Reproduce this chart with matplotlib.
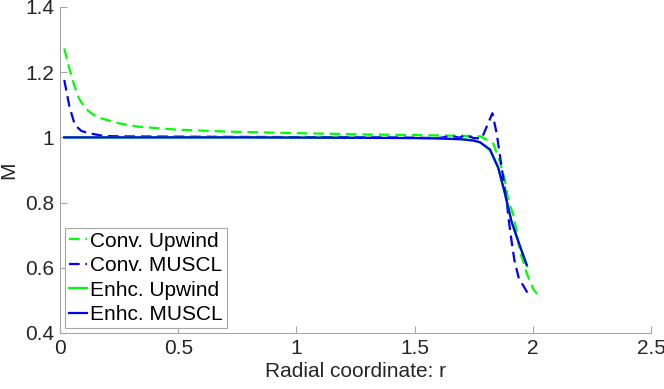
import matplotlib
matplotlib.use("Agg")
import matplotlib.pyplot as plt

# ── data ─────────────────────────────────────────────────────────────────────

conv_upwind_r = [0.018, 0.04, 0.06, 0.08, 0.106, 0.14, 0.176, 0.25, 0.33, 0.49,
                 0.70, 1.00, 1.30, 1.50, 1.70, 1.78, 1.833, 1.861, 1.882, 1.896,
                 1.92, 1.946, 1.977, 2.002, 2.018]
conv_upwind_M = [1.273, 1.21, 1.16, 1.12, 1.09, 1.07, 1.058, 1.043, 1.033, 1.024,
                 1.018, 1.013, 1.009, 1.007, 1.005, 1.003, 0.981, 0.925, 0.869, 0.808,
                 0.757, 0.650, 0.578, 0.535, 0.520]

conv_muscl_r = [0.018, 0.04, 0.063, 0.09, 0.12, 0.19, 0.30, 0.60, 1.00, 1.40,
                1.60, 1.657, 1.69, 1.713, 1.75, 1.784, 1.829, 1.847, 1.868, 1.891,
                1.90, 1.91, 1.922, 1.94, 1.984]
conv_muscl_M = [1.176, 1.094, 1.038, 1.020, 1.013, 1.004, 1.003, 1.002, 1.001, 1.000,
                0.998, 1.004, 0.999, 1.007, 0.998, 0.997, 1.074, 1.013, 0.910, 0.793,
                0.737, 0.683, 0.624, 0.570, 0.515]

enhc_upwind_r = [0.018, 0.30, 0.80, 1.20, 1.50, 1.60, 1.70, 1.75, 1.777, 1.819,
                 1.854, 1.882, 1.91, 1.939, 1.976]
enhc_upwind_M = [1.000, 1.000, 1.000, 0.999, 0.998, 0.997, 0.995, 0.991, 0.985, 0.960,
                 0.905, 0.826, 0.742, 0.680, 0.605]

enhc_muscl_r = [0.018, 0.30, 0.80, 1.20, 1.50, 1.60, 1.70, 1.75, 1.777, 1.819,
                1.854, 1.882, 1.91, 1.939, 1.974]
enhc_muscl_M = [1.000, 1.000, 1.000, 0.999, 0.998, 0.997, 0.994, 0.990, 0.985, 0.963,
                0.907, 0.829, 0.742, 0.680, 0.609]

X_TICKS = [0, 0.5, 1, 1.5, 2, 2.5]
X_TICKLABELS = ["0", "0.5", "1", "1.5", "2", "2.5"]
Y_TICKS = [0.4, 0.6, 0.8, 1.0, 1.2, 1.4]
Y_TICKLABELS = ["0.4", "0.6", "0.8", "1", "1.2", "1.4"]

# ── style ─────────────────────────────────────────────────────────────────────

plt.rcParams["font.family"] = ["Liberation Sans", "DejaVu Sans"]
plt.rcParams["font.size"] = 15

GREEN = "#00ff00"
BLUE = "#0000ff"
AXIS_GREY = "#a6a6a6"
TEXT_DARK = "#262626"
DASH = (0, (4.8, 2.6))
LW = 1.6

fig = plt.figure(figsize=(6.64, 3.89), dpi=100)
ax = fig.add_axes([60 / 664, 1 - 333 / 389, 591 / 664, 326 / 389])

ax.plot(conv_upwind_r, conv_upwind_M, color=GREEN, lw=LW, linestyle=DASH,
        label="Conv. Upwind")
ax.plot(conv_muscl_r, conv_muscl_M, color=BLUE, lw=LW, linestyle=DASH,
        label="Conv. MUSCL")
ax.plot(enhc_upwind_r, enhc_upwind_M, color=GREEN, lw=LW, label="Enhc. Upwind")
ax.plot(enhc_muscl_r, enhc_muscl_M, color=BLUE, lw=LW, label="Enhc. MUSCL")

ax.set_xlim(0, 2.5)
ax.set_ylim(0.4, 1.4)
ax.set_xticks(X_TICKS)
ax.set_xticklabels(X_TICKLABELS)
ax.set_yticks(Y_TICKS)
ax.set_yticklabels(Y_TICKLABELS)

for side in ("top", "right"):
    ax.spines[side].set_visible(False)
for side in ("left", "bottom"):
    ax.spines[side].set_color(AXIS_GREY)
    ax.spines[side].set_linewidth(0.8)
ax.tick_params(direction="in", length=5, width=0.8, color=AXIS_GREY,
               labelcolor=TEXT_DARK, pad=4)

ax.set_xlabel("Radial coordinate: r", color=TEXT_DARK, labelpad=3)
ax.set_ylabel("M", color=TEXT_DARK, labelpad=5)

leg = ax.legend(loc="lower left", bbox_to_anchor=(0.008, 0.015),
                handlelength=0.85, handletextpad=0.15, labelspacing=0.26,
                borderpad=0.2, borderaxespad=0.0, fancybox=False,
                framealpha=1.0, edgecolor=AXIS_GREY, fontsize=15)
leg.get_frame().set_linewidth(0.8)

fig.savefig("out.png", dpi=100)
